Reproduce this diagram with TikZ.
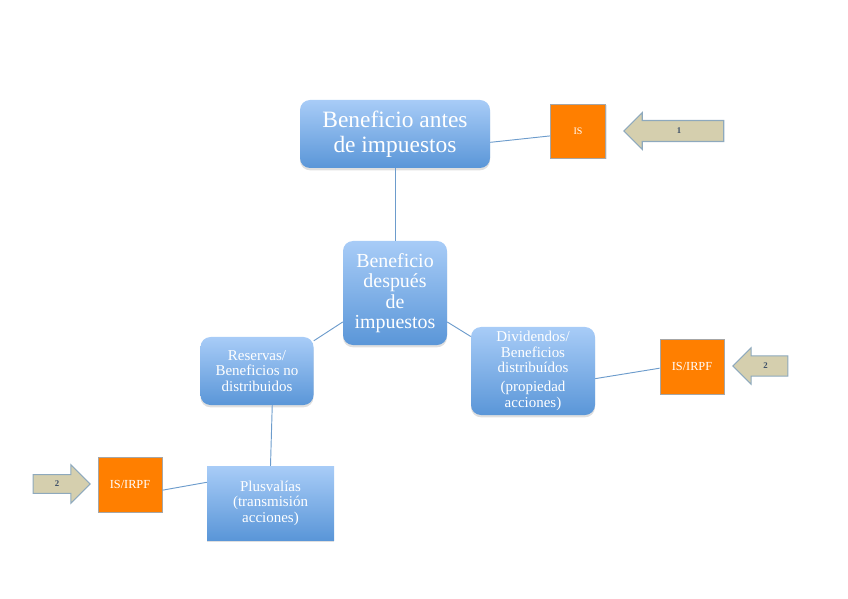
\documentclass[tikz,border=0pt]{standalone}
\usepackage{fontspec}
\setmainfont{Liberation Serif}
\usetikzlibrary{shapes.arrows,shadows}
\definecolor{cajaarriba}{HTML}{A8CCF7}
\definecolor{cajaabajo}{HTML}{5A96D8}
\definecolor{naranja}{HTML}{FF7F00}
\definecolor{flechafondo}{HTML}{D5CFAE}
\definecolor{flechaborde}{HTML}{8EA9BD}
\definecolor{linea}{HTML}{6D9CCC}
\definecolor{numero}{HTML}{3E5068}
\tikzset{
	caja/.style={rounded corners=0.3cm, top color=cajaarriba, bottom color=cajaabajo, text=white, align=center, inner sep=1pt, drop shadow={shadow xshift=0pt, shadow yshift=-2pt, opacity=0.25}},
	cajachica/.style={caja, font=\fontsize{12.8}{13.2}\selectfont},
	impuesto/.style={fill=naranja, draw=gray!70, line width=0.6pt, text=white, inner sep=1pt, minimum width=1.92cm, minimum height=1.65cm, font=\fontsize{10.5}{12}\selectfont, drop shadow={shadow xshift=1pt, shadow yshift=-1pt, opacity=0.2}},
	flecha/.style={single arrow, fill=flechafondo, draw=flechaborde, line width=0.9pt, text=numero, font=\fontsize{7.5}{7.5}\selectfont\bfseries, text height=5pt, text depth=0pt, inner ysep=6pt, single arrow head extend=0.24cm},
	conector/.style={draw=linea, line width=0.8pt}
}
\begin{document}
\begin{tikzpicture}[x=0.03cm,y=-0.03cm]
	\useasboundingbox (0,0) rectangle (848,599);
\node [caja, minimum width=5.7cm, minimum height=2.04cm, font=\fontsize{20}{21}\selectfont] (bai) at (395,134) {Beneficio antes\\de impuestos};
\node [caja, minimum width=3.12cm, minimum height=3.12cm, font=\fontsize{17}{17.5}\selectfont] (bdi) at (395,293) {Beneficio\\después\\de\\impuestos};
\node [cajachica, minimum width=3.39cm, minimum height=2.04cm] (reservas) at (257,371) {Reservas/\\Beneficios no\\distribuidos};
\node [cajachica, minimum width=3.72cm, minimum height=2.64cm] (dividendos) at (533,371) {Dividendos/\\Beneficios\\distribuídos\\[3pt](propiedad\\acciones)};
\node [cajachica, rounded corners=0pt, minimum width=3.81cm, minimum height=2.22cm] (plusvalias) at (270.5,503) {Plusvalías\\(transmisión\\acciones)};
\node [impuesto, minimum width=1.65cm, minimum height=1.62cm, font=\fontsize{8.5}{10}\selectfont] (is) at (578,131) {IS};
\node [impuesto] (irpfder) at (692,366.5) {IS/IRPF};
\node [impuesto] (irpfizq) at (130,484.5) {IS/IRPF};
\node [flecha, shape border rotate=180, minimum height=3cm] (flecha1) at (679,131) {1};
\node [flecha, shape border rotate=180, minimum height=1.65cm, inner ysep=5.7pt] (flecha2) at (765.5,366) {2};
\node [flecha, minimum height=1.71cm, inner ysep=5pt, single arrow head extend=0.3cm] (flecha3) at (57,484) {2};
\draw [conector] (bai.south)-- (bdi.north);
\draw [conector] (bai.-5.4)-- (is.190);
\draw [conector] (bdi.209)-- (reservas.28);
\draw [conector] (bdi.-29)-- (dividendos.151);
\draw [conector] (reservas.-66)-- (plusvalias.north);
\draw [conector] (plusvalias.162)-- (irpfizq.-10);
\draw [conector] (dividendos.-7.4)-- (irpfder.183);
	\end{tikzpicture}
\end{document}
